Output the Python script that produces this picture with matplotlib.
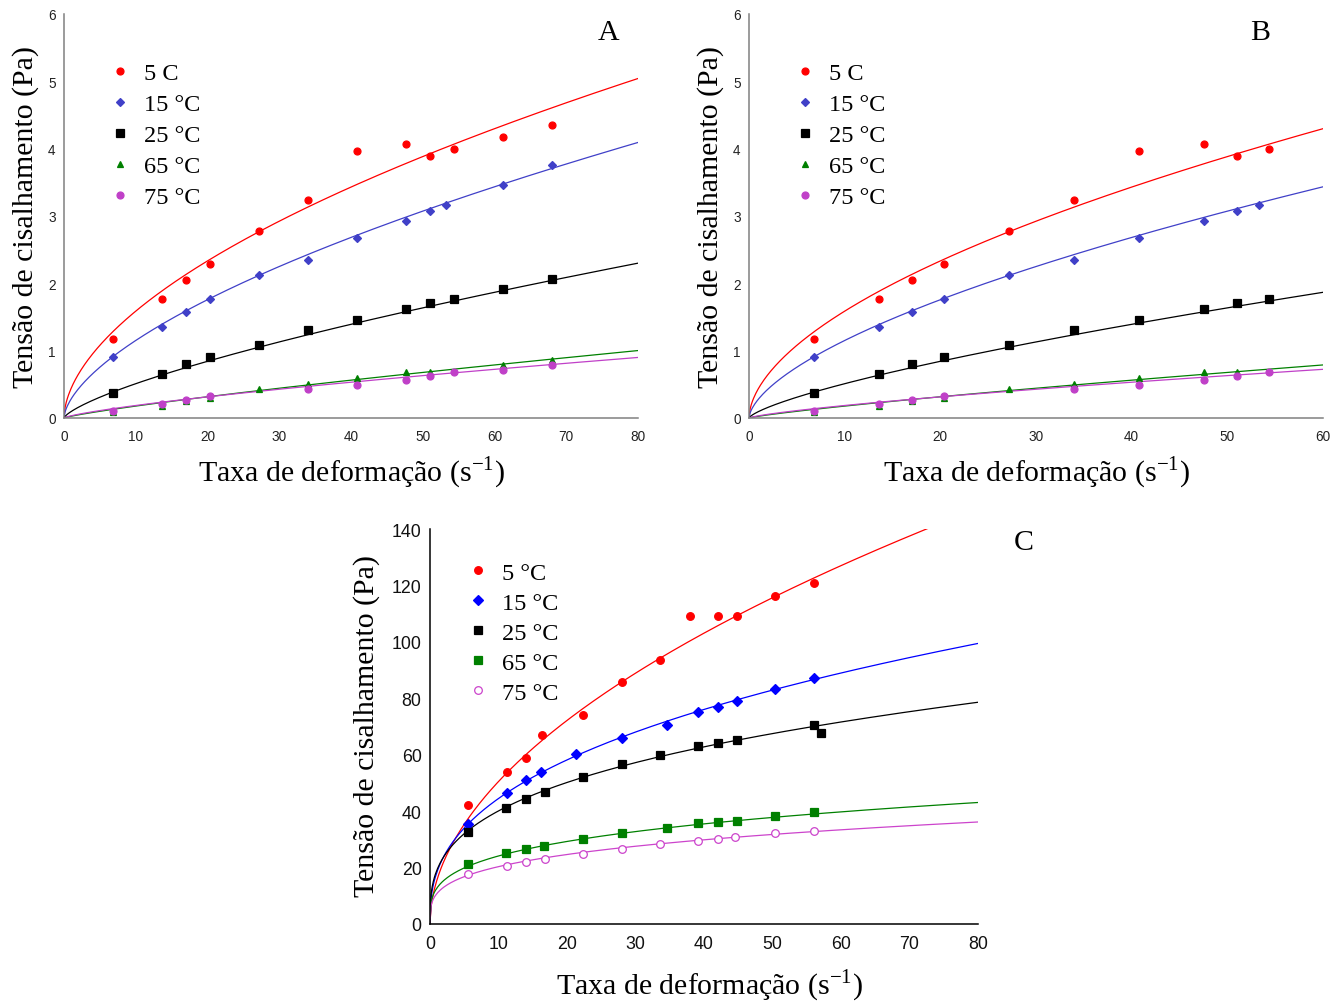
import numpy as np
import matplotlib
matplotlib.use("Agg")
import matplotlib.pyplot as plt

plt.rcParams['font.family'] = ['Liberation Serif', 'DejaVu Serif']
plt.rcParams['mathtext.fontset'] = 'custom'
plt.rcParams['mathtext.rm'] = 'Liberation Serif'

# ---- data: panels A and B (same measurements, B shown up to 60 1/s)
labels_ab = ['5 C', '15 °C', '25 °C', '65 °C', '75 °C']
x_5c = [6.8, 13.6, 17.0, 20.4, 27.2, 34.0, 40.8, 47.6, 51.0, 54.4, 61.2, 68.0]
y_5c = [1.17, 1.76, 2.05, 2.28, 2.78, 3.24, 3.97, 4.07, 3.89, 4.00, 4.18, 4.35]
x_15c = [6.8, 13.6, 17.0, 20.4, 27.2, 34.0, 40.8, 47.6, 51.0, 53.3, 61.2, 68.0]
y_15c = [0.91, 1.35, 1.57, 1.77, 2.12, 2.35, 2.67, 2.92, 3.08, 3.16, 3.46, 3.75]
x_25c = [6.8, 13.6, 17.0, 20.4, 27.2, 34.0, 40.8, 47.6, 51.0, 54.4, 61.2, 68.0]
y_25c = [0.37, 0.66, 0.80, 0.91, 1.09, 1.31, 1.46, 1.62, 1.71, 1.77, 1.91, 2.07]
x_65c = [6.8, 13.6, 17.0, 20.4, 27.2, 34.0, 40.8, 47.6, 51.0, 61.2, 68.0]
y_65c = [0.09, 0.18, 0.25, 0.29, 0.43, 0.51, 0.59, 0.69, 0.69, 0.79, 0.86]
x_75c = [6.8, 13.6, 17.0, 20.4, 34.0, 40.8, 47.6, 51.0, 54.4, 61.2, 68.0]
y_75c = [0.10, 0.21, 0.26, 0.32, 0.43, 0.49, 0.57, 0.62, 0.68, 0.71, 0.78]
# power law fits (tau = K * rate^n)
k_ab = [0.441, 0.2825, 0.0959, 0.0259, 0.0323]
n_ab = [0.556, 0.610, 0.725, 0.834, 0.759]

# ---- data: panel C
labels_c = ['5 °C', '15 °C', '25 °C', '65 °C', '75 °C']
xc_5c = [5.6, 11.2, 14.0, 16.3, 22.4, 28.0, 33.6, 38.0, 42.0, 44.8, 50.4, 56.0]
yc_5c = [42.0, 53.9, 58.9, 66.9, 73.9, 85.8, 93.7, 109.1, 109.1, 109.1, 116.1, 120.9]
xc_15c = [5.6, 11.3, 14.0, 16.2, 21.3, 28.0, 34.6, 39.1, 42.0, 44.8, 50.4, 56.0]
yc_15c = [35.5, 46.4, 50.9, 53.8, 60.2, 65.9, 70.7, 75.2, 76.8, 79.1, 83.4, 87.3]
xc_25c = [5.6, 11.1, 14.0, 16.8, 22.4, 28.0, 33.6, 39.1, 42.0, 44.8, 56.0, 57.1]
yc_25c = [32.6, 41.2, 44.2, 46.7, 52.1, 56.6, 59.8, 63.0, 64.2, 65.3, 70.4, 67.7]
xc_65c = [5.6, 11.1, 14.0, 16.6, 22.4, 28.0, 34.6, 39.1, 42.0, 44.8, 50.4, 56.0]
yc_65c = [21.1, 25.3, 26.5, 27.8, 30.1, 32.3, 34.0, 35.9, 36.1, 36.6, 38.1, 39.7]
xc_75c = [5.6, 11.3, 14.0, 16.8, 22.4, 28.0, 33.6, 39.1, 42.0, 44.6, 50.4, 56.0]
yc_75c = [17.6, 20.7, 21.9, 23.1, 24.9, 26.6, 28.2, 29.5, 30.2, 30.7, 32.1, 33.0]
k_c = [15.42, 18.24, 19.0, 12.68, 10.74]
n_c = [0.515, 0.387, 0.324, 0.279, 0.277]

series_ab = [(x_5c, y_5c), (x_15c, y_15c), (x_25c, y_25c), (x_65c, y_65c), (x_75c, y_75c)]
series_c = [(xc_5c, yc_5c), (xc_15c, yc_15c), (xc_25c, yc_25c), (xc_65c, yc_65c), (xc_75c, yc_75c)]

colors_ab = ['#ff0000', '#4040c8', '#000000', '#008000', '#c040c8']
markers_ab = ['o', 'D', 's', '^', 'o']
msizes_ab = [5, 4.2, 5.5, 5, 5]
colors_c = ['#ff0000', '#0000ff', '#000000', '#008000', '#cc44cc']
markers_c = ['o', 'D', 's', 's', 'o']
msizes_c = [5.5, 4.8, 5.8, 5.8, 5.5]

xlabel = 'Taxa de deformação (s$^{\\mathregular{-1}}$)'
ylabel = 'Tensão de cisalhamento (Pa)'


def draw_panel(ax, series, ks, ns, labels, colors, markers, msizes, xmax, ymax,
               spine_color, open_last=False):
    handles = []
    xfit = np.linspace(0, xmax, 500)
    for i, (xs, ys) in enumerate(series):
        xs = np.array(xs)
        ys = np.array(ys)
        keep = xs <= xmax
        ax.plot(xfit, ks[i] * xfit ** ns[i], color=colors[i], lw=0.9, zorder=2)
        face = 'white' if (open_last and i == len(series) - 1) else colors[i]
        h, = ax.plot(xs[keep], ys[keep], ls='none', marker=markers[i],
                     ms=msizes[i], mfc=face, mec=colors[i], mew=0.9,
                     zorder=3, label=labels[i])
        handles.append(h)
    ax.set_xlim(0, xmax)
    ax.set_ylim(0, ymax)
    for s in ['top', 'right']:
        ax.spines[s].set_visible(False)
    for s in ['left', 'bottom']:
        ax.spines[s].set_color(spine_color)
        ax.spines[s].set_linewidth(1.1)
    return handles


fig = plt.figure(figsize=(13.44, 10.04), dpi=100)

axA = fig.add_axes([0.0476, 0.5827, 0.4271, 0.4024])
axB = fig.add_axes([0.5573, 0.5827, 0.4271, 0.4024])
axC = fig.add_axes([0.3199, 0.0787, 0.4077, 0.3934])

for ax, xmax, letter, lx in [(axA, 80, 'A', 0.949), (axB, 60, 'B', 0.890)]:
    hs = draw_panel(ax, series_ab, k_ab, n_ab, labels_ab, colors_ab, markers_ab,
                    msizes_ab, xmax, 6, '#808080')
    ax.set_xticks(np.arange(0, xmax + 1, 10))
    ax.set_yticks(np.arange(0, 7, 1))
    ax.tick_params(length=0, labelsize=9.8, colors='#222222')
    ax.tick_params(axis='x', pad=8)
    ax.tick_params(axis='y', pad=6)
    for t in ax.get_xticklabels() + ax.get_yticklabels():
        t.set_fontfamily(['Liberation Sans', 'DejaVu Sans'])
    ax.set_xlabel(xlabel, fontsize=21.5)
    ax.set_ylabel(ylabel, fontsize=21.5)
    ax.xaxis.set_label_coords(0.501, -0.089)
    ax.yaxis.set_label_coords(-0.043, 0.5)
    ax.text(lx, 0.955, letter, transform=ax.transAxes, fontsize=21.5,
            ha='center', va='center')
    ax.legend(handles=hs, loc='upper left', bbox_to_anchor=(0.0758, 0.881),
              frameon=False, fontsize=17.5, handlelength=1.0,
              handletextpad=0.5, labelspacing=0.37, borderpad=0,
              borderaxespad=0)

hs = draw_panel(axC, series_c, k_c, n_c, labels_c, colors_c, markers_c,
                msizes_c, 80, 140, '#000000', open_last=True)
axC.set_xticks(np.arange(0, 81, 10))
axC.set_yticks(np.arange(0, 141, 20))
axC.tick_params(length=0, labelsize=12.8, colors='#111111')
axC.tick_params(axis='x', pad=8)
axC.tick_params(axis='y', pad=6)
for t in axC.get_xticklabels() + axC.get_yticklabels():
    t.set_fontfamily(['Liberation Sans Narrow', 'Liberation Sans', 'DejaVu Sans'])
axC.set_xlabel(xlabel, fontsize=21.5)
axC.set_ylabel(ylabel, fontsize=21.5)
axC.xaxis.set_label_coords(0.51, -0.109)
axC.yaxis.set_label_coords(-0.091, 0.504)
axC.text(1.084, 0.967, 'C', transform=axC.transAxes, fontsize=21.5,
         ha='center', va='center')
axC.legend(handles=hs, loc='upper left', bbox_to_anchor=(0.0653, 0.917),
           frameon=False, fontsize=17.5, handlelength=1.0,
           handletextpad=0.5, labelspacing=0.33, borderpad=0,
           borderaxespad=0)

fig.savefig('out.png', dpi=100)
